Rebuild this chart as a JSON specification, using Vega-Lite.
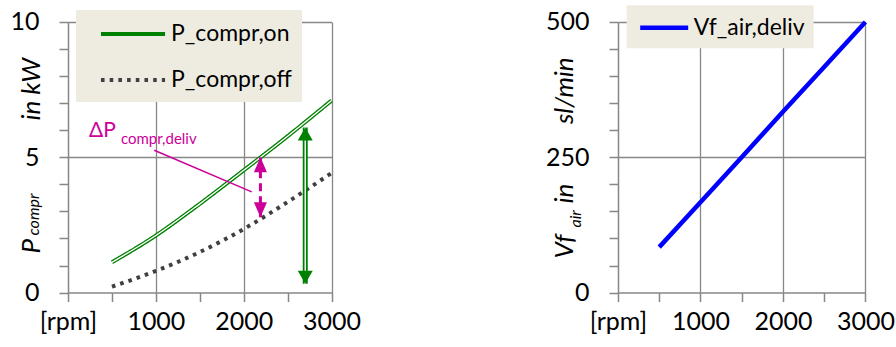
{
  "$schema": "https://vega.github.io/schema/vega-lite/v6.json",
  "background": "white",
  "padding": {"left": 9, "top": 5, "right": 0, "bottom": 0},
  "spacing": 184,
  "config": {
    "font": "Lato",
    "view": {"stroke": null},
    "axis": {
      "domainColor": "#878787", "domainWidth": 1.5,
      "tickColor": "#878787", "tickWidth": 1.5,
      "gridColor": "#878787", "gridWidth": 1.3,
      "labelColor": "black", "labelFontSize": 25, "labelFont": "Lato",
      "labelFlush": false, "labelOverlap": false,
      "titleFont": "Lato", "titleColor": "black", "titleFontWeight": "normal"
    },
    "legend": {"labelFontSize": 23, "labelFont": "Lato", "labelColor": "black", "labelLimit": 300}
  },
  "datasets": {
    "power": [
      {"rpm": 500, "kW": 1.12, "series": "P_compr,on"},
      {"rpm": 1000, "kW": 2.11, "series": "P_compr,on"},
      {"rpm": 1500, "kW": 3.28, "series": "P_compr,on"},
      {"rpm": 2000, "kW": 4.52, "series": "P_compr,on"},
      {"rpm": 2500, "kW": 5.78, "series": "P_compr,on"},
      {"rpm": 3000, "kW": 7.1, "series": "P_compr,on"},
      {"rpm": 500, "kW": 0.22, "series": "P_compr,off"},
      {"rpm": 1000, "kW": 0.8, "series": "P_compr,off"},
      {"rpm": 1500, "kW": 1.5, "series": "P_compr,off"},
      {"rpm": 2000, "kW": 2.35, "series": "P_compr,off"},
      {"rpm": 2500, "kW": 3.35, "series": "P_compr,off"},
      {"rpm": 3000, "kW": 4.42, "series": "P_compr,off"}
    ],
    "arrows": [
      {"kind": "green", "rpm": 2700, "lo": 0.33, "hi": 6.1},
      {"kind": "magenta", "rpm": 2190, "lo": 2.78, "hi": 5.0}
    ],
    "pointer": [
      {"rpm": 981, "kW": 5.26, "rpm2": 2091, "kW2": 3.72}
    ],
    "note": [
      {"rpm": 239, "kW": 5.75, "main": "ΔP", "sub": "compr,deliv"}
    ],
    "flow": [
      {"rpm": 500, "flow": 84, "name": "Vf_air,deliv"},
      {"rpm": 1000, "flow": 167, "name": "Vf_air,deliv"},
      {"rpm": 1500, "flow": 250, "name": "Vf_air,deliv"},
      {"rpm": 2000, "flow": 334, "name": "Vf_air,deliv"},
      {"rpm": 2500, "flow": 417, "name": "Vf_air,deliv"},
      {"rpm": 3000, "flow": 500, "name": "Vf_air,deliv"}
    ]
  },
  "resolve": {
    "scale": {"color": "independent", "strokeDash": "independent"},
    "legend": {"color": "independent", "strokeDash": "independent"}
  },
  "hconcat": [
    {
      "width": 263.6,
      "height": 270.6,
      "resolve": {"axis": {"x": "independent", "y": "independent"}},
      "layer": [
        {
          "data": {"name": "power"},
          "mark": {"type": "line", "strokeWidth": 4, "interpolate": "monotone"},
          "encoding": {
            "x": {
              "field": "rpm", "type": "quantitative",
              "scale": {"domain": [0, 3000], "nice": false},
              "axis": {
                "orient": "bottom",
                "values": [0, 500, 1000, 1500, 2000, 2500, 3000],
                "format": "d",
                "labelExpr": "datum.value == 0 ? '[rpm]' : (datum.value % 1000 == 0 ? datum.label : '')",
                "tickSize": 9, "labelPadding": 8, "title": null, "grid": false,
                "labelFlush": false, "labelOverlap": false
              }
            },
            "y": {
              "field": "kW", "type": "quantitative",
              "scale": {"domain": [0, 10], "nice": false},
              "axis": {
                "orient": "left",
                "values": [0, 1, 2, 3, 4, 5, 6, 7, 8, 9, 10],
                "labelExpr": "datum.value % 5 == 0 ? datum.label : ''",
                "tickSize": 9, "labelPadding": 20, "grid": false, "labelOverlap": false,
                "title": "P", "titleFontSize": 26, "titleFontStyle": "italic",
                "titleAngle": 270, "titleAlign": "left", "titleBaseline": "alphabetic",
                "titleX": -29, "titleY": 231
              }
            },
            "color": {
              "field": "series", "type": "nominal",
              "scale": {"domain": ["P_compr,on", "P_compr,off"], "range": ["#008000", "#404040"]},
              "legend": {
                "title": null, "orient": "none", "direction": "vertical",
                "legendX": 8, "legendY": -12, "fillColor": "#EEECE1",
                "padding": 10, "rowPadding": 20,
                "symbolType": "M-2.67,0L2.67,0", "symbolSize": 576, "symbolStrokeWidth": 4,
                "symbolOffset": 33, "labelOffset": 24,
                "labelFontSize": 23,
                "labelExpr": "datum.label + '   '"
              }
            },
            "strokeDash": {
              "field": "series", "type": "nominal",
              "scale": {"domain": ["P_compr,on", "P_compr,off"], "range": [[1, 0], [3.6, 5.1]]},
              "legend": {
                "title": null, "orient": "none", "direction": "vertical",
                "legendX": 8, "legendY": -12, "fillColor": "#EEECE1",
                "padding": 10, "rowPadding": 20,
                "symbolType": "M-2.67,0L2.67,0", "symbolSize": 576, "symbolStrokeWidth": 4,
                "symbolOffset": 33, "labelOffset": 24,
                "labelFontSize": 23,
                "labelExpr": "datum.label + '   '"
              }
            }
          }
        },
        {
          "data": {"name": "power"},
          "transform": [{"filter": "datum.series == 'P_compr,on'"}],
          "mark": {"type": "line", "strokeWidth": 1.4, "color": "white", "interpolate": "monotone"},
          "encoding": {
            "x": {
              "field": "rpm", "type": "quantitative",
              "axis": {
                "orient": "bottom", "values": [1000, 2000, 3000], "grid": true,
                "labels": false, "ticks": false, "domain": false, "title": null
              }
            },
            "y": {
              "field": "kW", "type": "quantitative",
              "axis": {
                "orient": "left", "values": [5, 10], "grid": true,
                "labels": false, "ticks": false, "domain": false,
                "title": "compr", "titleFontSize": 16, "titleFontStyle": "italic",
                "titleAngle": 270, "titleAlign": "left", "titleBaseline": "alphabetic",
                "titleX": -30, "titleY": 213
              }
            }
          }
        },
        {
          "data": {"name": "arrows"},
          "transform": [{"filter": "datum.kind == 'green'"}],
          "mark": {"type": "rule", "strokeWidth": 5, "color": "#008000"},
          "encoding": {
            "x": {"field": "rpm", "type": "quantitative", "axis": null},
            "y": {
              "field": "lo", "type": "quantitative",
              "axis": {
                "orient": "left", "labels": false, "ticks": false, "domain": false, "grid": false,
                "title": "in kW", "titleFontSize": 26, "titleFontStyle": "italic",
                "titleAngle": 270, "titleAlign": "left", "titleBaseline": "alphabetic",
                "titleX": -29, "titleY": 98
              }
            },
            "y2": {"field": "hi"}
          }
        },
        {
          "data": {"name": "arrows"},
          "transform": [{"filter": "datum.kind == 'green'"}],
          "mark": {"type": "rule", "strokeWidth": 1.4, "color": "white"},
          "encoding": {
            "x": {"field": "rpm", "type": "quantitative", "axis": null},
            "y": {"field": "lo", "type": "quantitative", "axis": null},
            "y2": {"field": "hi"}
          }
        },
        {
          "data": {"name": "arrows"},
          "transform": [{"filter": "datum.kind == 'green'"}],
          "mark": {"type": "point", "shape": "M0,0L-1,1.73L1,1.73Z", "size": 225, "filled": true, "color": "#008000", "opacity": 1, "strokeWidth": 0},
          "encoding": {
            "x": {"field": "rpm", "type": "quantitative", "axis": null},
            "y": {"field": "hi", "type": "quantitative", "axis": null}
          }
        },
        {
          "data": {"name": "arrows"},
          "transform": [{"filter": "datum.kind == 'green'"}],
          "mark": {"type": "point", "shape": "M0,0L-1,-1.73L1,-1.73Z", "size": 225, "filled": true, "color": "#008000", "opacity": 1, "strokeWidth": 0},
          "encoding": {
            "x": {"field": "rpm", "type": "quantitative", "axis": null},
            "y": {"field": "lo", "type": "quantitative", "axis": null}
          }
        },
        {
          "data": {"name": "arrows"},
          "transform": [{"filter": "datum.kind == 'magenta'"}],
          "mark": {"type": "rule", "strokeWidth": 3, "color": "#CC0099", "strokeDash": [8, 5]},
          "encoding": {
            "x": {"field": "rpm", "type": "quantitative", "axis": null},
            "y": {"field": "lo", "type": "quantitative", "axis": null},
            "y2": {"field": "hi"}
          }
        },
        {
          "data": {"name": "arrows"},
          "transform": [{"filter": "datum.kind == 'magenta'"}],
          "mark": {"type": "point", "shape": "M0,0L-0.87,2L0.87,2Z", "size": 225, "filled": true, "color": "#CC0099", "opacity": 1, "strokeWidth": 0},
          "encoding": {
            "x": {"field": "rpm", "type": "quantitative", "axis": null},
            "y": {"field": "hi", "type": "quantitative", "axis": null}
          }
        },
        {
          "data": {"name": "arrows"},
          "transform": [{"filter": "datum.kind == 'magenta'"}],
          "mark": {"type": "point", "shape": "M0,0L-0.87,-2L0.87,-2Z", "size": 225, "filled": true, "color": "#CC0099", "opacity": 1, "strokeWidth": 0},
          "encoding": {
            "x": {"field": "rpm", "type": "quantitative", "axis": null},
            "y": {"field": "lo", "type": "quantitative", "axis": null}
          }
        },
        {
          "data": {"name": "pointer"},
          "mark": {"type": "rule", "strokeWidth": 1.5, "color": "#CC0099"},
          "encoding": {
            "x": {"field": "rpm", "type": "quantitative", "axis": null},
            "y": {"field": "kW", "type": "quantitative", "axis": null},
            "x2": {"field": "rpm2"},
            "y2": {"field": "kW2"}
          }
        },
        {
          "data": {"name": "note"},
          "mark": {"type": "text", "fontSize": 21, "align": "left", "baseline": "alphabetic", "color": "#CC0099", "font": "Lato"},
          "encoding": {
            "x": {"field": "rpm", "type": "quantitative", "axis": null},
            "y": {"field": "kW", "type": "quantitative", "axis": null},
            "text": {"field": "main"}
          }
        },
        {
          "data": {"name": "note"},
          "mark": {"type": "text", "fontSize": 15, "align": "left", "baseline": "alphabetic", "color": "#CC0099", "font": "Lato", "dx": 32, "dy": 6.6},
          "encoding": {
            "x": {"field": "rpm", "type": "quantitative", "axis": null},
            "y": {"field": "kW", "type": "quantitative", "axis": null},
            "text": {"field": "sub"}
          }
        }
      ]
    },
    {
      "width": 247.4,
      "height": 270.6,
      "resolve": {"axis": {"x": "independent", "y": "independent"}},
      "layer": [
        {
          "data": {"name": "flow"},
          "mark": {"type": "line", "strokeWidth": 4.5},
          "encoding": {
            "x": {
              "field": "rpm", "type": "quantitative",
              "scale": {"domain": [0, 3000], "nice": false},
              "axis": {
                "orient": "bottom",
                "values": [0, 500, 1000, 1500, 2000, 2500, 3000],
                "format": "d",
                "labelExpr": "datum.value == 0 ? '[rpm]' : (datum.value % 1000 == 0 ? datum.label : '')",
                "tickSize": 9, "labelPadding": 8, "title": null, "grid": false,
                "labelFlush": false, "labelOverlap": false
              }
            },
            "y": {
              "field": "flow", "type": "quantitative",
              "scale": {"domain": [0, 500], "nice": false},
              "axis": {
                "orient": "left",
                "values": [0, 50, 100, 150, 200, 250, 300, 350, 400, 450, 500],
                "labelExpr": "datum.value % 250 == 0 ? datum.label : ''",
                "tickSize": 9, "labelPadding": 20, "grid": false, "labelOverlap": false,
                "title": "Vf", "titleFontSize": 26, "titleFontStyle": "italic",
                "titleAngle": 270, "titleAlign": "left", "titleBaseline": "alphabetic",
                "titleX": -45, "titleY": 236
              }
            },
            "color": {
              "field": "name", "type": "nominal",
              "scale": {"domain": ["Vf_air,deliv"], "range": ["#0000FF"]},
              "legend": {
                "title": null, "orient": "none", "direction": "vertical",
                "legendX": 8.7, "legendY": -16.7, "fillColor": "#EEECE1",
                "padding": 8,
                "symbolType": "M-2,0L2,0", "symbolSize": 576, "symbolStrokeWidth": 4.5,
                "symbolOffset": 15, "labelOffset": 15,
                "labelFontSize": 23,
                "labelExpr": "datum.label + ' '"
              }
            }
          }
        },
        {
          "data": {"name": "flow"},
          "mark": {"type": "line", "opacity": 0},
          "encoding": {
            "x": {
              "field": "rpm", "type": "quantitative",
              "axis": {
                "orient": "bottom", "values": [1000, 2000, 3000], "grid": true,
                "labels": false, "ticks": false, "domain": false, "title": null
              }
            },
            "y": {
              "field": "flow", "type": "quantitative",
              "axis": {
                "orient": "left", "values": [250, 500], "grid": true,
                "labels": false, "ticks": false, "domain": false,
                "title": "air", "titleFontSize": 16, "titleFontStyle": "italic",
                "titleAngle": 270, "titleAlign": "left", "titleBaseline": "alphabetic",
                "titleX": -37, "titleY": 205
              }
            }
          }
        },
        {
          "data": {"name": "flow"},
          "mark": {"type": "line", "opacity": 0},
          "encoding": {
            "x": {"field": "rpm", "type": "quantitative", "axis": null},
            "y": {
              "field": "flow", "type": "quantitative",
              "axis": {
                "orient": "left", "labels": false, "ticks": false, "domain": false, "grid": false,
                "title": "in", "titleFontSize": 26, "titleFontStyle": "italic",
                "titleAngle": 270, "titleAlign": "left", "titleBaseline": "alphabetic",
                "titleX": -45, "titleY": 181
              }
            }
          }
        },
        {
          "data": {"name": "flow"},
          "mark": {"type": "line", "opacity": 0},
          "encoding": {
            "x": {"field": "rpm", "type": "quantitative", "axis": null},
            "y": {
              "field": "flow", "type": "quantitative",
              "axis": {
                "orient": "left", "labels": false, "ticks": false, "domain": false, "grid": false,
                "title": "sl/min", "titleFontSize": 26, "titleFontStyle": "italic",
                "titleAngle": 270, "titleAlign": "left", "titleBaseline": "alphabetic",
                "titleX": -45, "titleY": 101.6
              }
            }
          }
        }
      ]
    }
  ]
}
